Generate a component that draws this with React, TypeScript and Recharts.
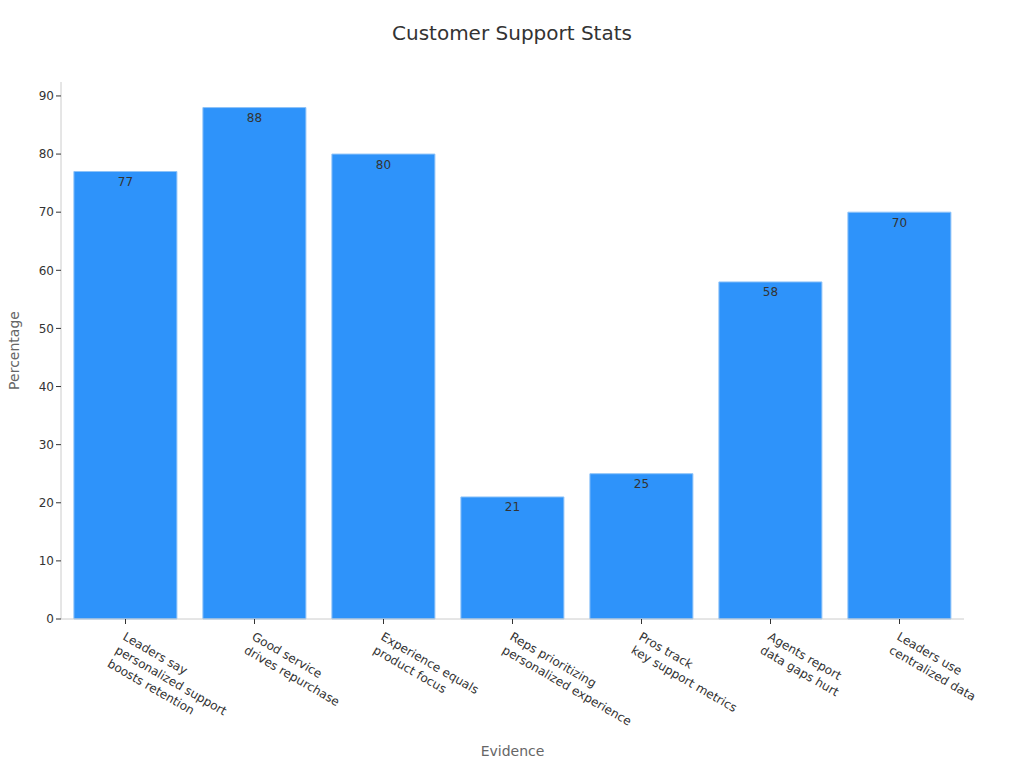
import React from 'react';
import { BarChart, Bar, XAxis, YAxis, LabelList, Label } from 'recharts';

const categories = [
  'Leaders say\npersonalized support\nboosts retention',
  'Good service\ndrives repurchase',
  'Experience equals\nproduct focus',
  'Reps prioritizing\npersonalized experience',
  'Pros track\nkey support metrics',
  'Agents report\ndata gaps hurt',
  'Leaders use\ncentralized data',
];
const values = [77, 88, 80, 21, 25, 58, 70];
const yTicks = [0, 10, 20, 30, 40, 50, 60, 70, 80, 90];

const data = categories.map((c, i) => ({ name: c, value: values[i] }));

const FONT = '"DejaVu Sans", sans-serif';

const MultiTick = (props: any) => {
  const { x, y, payload } = props;
  const lines = String(payload.value).split('\n');
  return (
    <g transform={`translate(${x + 7},${y + 3})`}>
      <text
        transform="rotate(30)"
        x={0}
        y={0}
        textAnchor="start"
        fill="#333"
        fontSize={12}
        fontFamily={FONT}
      >
        {lines.map((l, i) => (
          <tspan key={i} x={-4} dy={i === 0 ? 14 : 15.5}>
            {l}
          </tspan>
        ))}
      </text>
    </g>
  );
};

export default function App() {
  return (
    <div style={{ position: 'absolute', left: 0, top: 0, width: 1024, height: 768, fontFamily: FONT }}>
      <div
        style={{
          position: 'absolute',
          top: 21,
          left: 0,
          width: 1024,
          textAlign: 'center',
          fontSize: 20,
          color: '#333',
          fontFamily: FONT,
        }}
      >
        Customer Support Stats
      </div>
      <BarChart
        width={1024}
        height={768}
        data={data}
        margin={{ top: 82, right: 60, left: 21, bottom: 29 }}
        barCategoryGap="10%"
      >
        <XAxis
          dataKey="name"
          interval={0}
          tick={<MultiTick />}
          height={120}
          stroke="#ccc"
          tickLine={{ stroke: '#333' }}
          tickSize={5}
        >
          <Label
            value="Evidence"
            position="insideBottom"
            offset={-17}
            fill="#666"
            fontSize={14}
            fontFamily={FONT}
          />
        </XAxis>
        <YAxis
          width={40}
          domain={[0, 92.4]}
          ticks={yTicks}
          stroke="#ccc"
          tickLine={{ stroke: '#333' }}
          tickSize={5}
          tick={{ fill: '#333', fontSize: 12, fontFamily: FONT }}
        >
          <Label
            value="Percentage"
            angle={-90}
            position="insideLeft"
            offset={-7}
            fill="#666"
            fontSize={14}
            fontFamily={FONT}
            style={{ textAnchor: 'middle' }}
          />
        </YAxis>
        <Bar dataKey="value" fill="#2e93fa" stroke="#8ec3f8" strokeWidth={1} isAnimationActive={false}>
          <LabelList
            dataKey="value"
            position="insideTop"
            offset={6}
            fill="#333"
            fontSize={12}
            fontFamily={FONT}
          />
        </Bar>
      </BarChart>
    </div>
  );
}
